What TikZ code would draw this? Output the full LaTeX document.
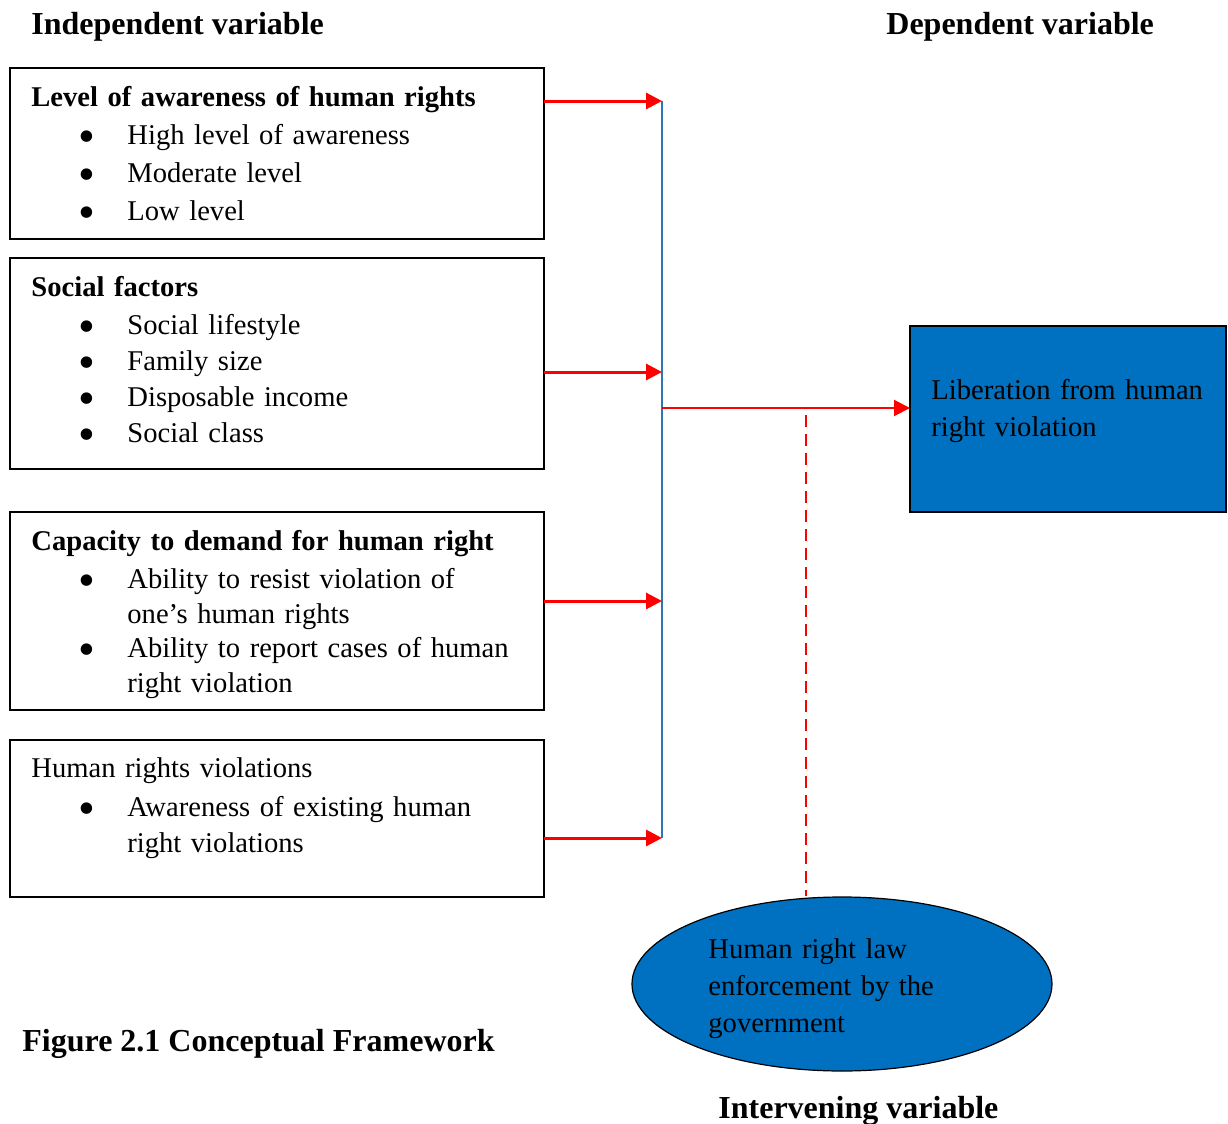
\documentclass[tikz,border=0pt]{standalone}
\usepackage{fontspec}
\setmainfont{Liberation Serif}
\usepackage{tikz}
\usetikzlibrary{arrows.meta,positioning,shapes.geometric}
\definecolor{boxblue}{RGB}{0,112,192}
\definecolor{barblue}{RGB}{46,117,182}
\definecolor{linkred}{RGB}{255,0,0}
\newcommand{\bigdot}{\smash{\fontsize{24}{24}\selectfont\raisebox{-3.9pt}{\textbullet}}}
\newcommand{\itm}[1]{\par\leftskip=48pt\noindent\llap{\bigdot\hspace{16pt}}#1\par}
\newcommand{\firstline}{\rule{0pt}{10.5pt}}

\begin{document}
\begin{tikzpicture}[x=0.5pt, y=-0.5pt,
    framebox/.style={draw=black, line width=0.75pt, anchor=north west, minimum width=267pt, inner sep=0pt, outer sep=0pt},
    boxtext/.style={anchor=north west, inner sep=0pt, text width=260pt, align=left},
    title/.style={anchor=base west, inner sep=0pt, font=\fontsize{16}{19}\selectfont\bfseries},
    feedarrow/.style={linkred, line width=1.5pt, -{Triangle[length=8pt,width=8pt]}},
    mainarrow/.style={linkred, line width=1pt, -{Triangle[length=8pt,width=8pt]}},
    every node/.style={font=\fontsize{14.3}{19}\selectfont}]
  \useasboundingbox (0,0) rectangle (1228,1124);

  % column titles
  \node[title] (indep) at (31,34) {Independent variable};
  \node[title] (dep) at (886,34) {Dependent variable};

  % independent variable boxes
  \node[framebox, minimum height=85.5pt] (aware) at (10,68) {};
  \node[boxtext] (aware-txt) at (31,85) {\firstline\textbf{Level of awareness of human rights}
    \itm{High level of awareness}
    \itm{Moderate level}
    \itm{Low level}};

  \node[framebox, minimum height=105.5pt] (social) at (10,258) {};
  \node[boxtext, font=\fontsize{14.3}{18}\selectfont] (social-txt) at (31,275) {\firstline\textbf{Social factors}\par\vspace{1pt}
    \itm{Social lifestyle}
    \itm{Family size}
    \itm{Disposable income}
    \itm{Social class}};

  \node[framebox, minimum height=99pt] (demand) at (10,512) {};
  \node[boxtext, font=\fontsize{14.3}{17.3}\selectfont] (demand-txt) at (31,529) {\firstline\textbf{Capacity to demand for human right}\par\vspace{1.7pt}
    \itm{Ability to resist violation of\\ one's human rights}
    \itm{Ability to report cases of human\\ right violation}};

  \node[framebox, minimum height=78.5pt] (viol) at (10,740) {};
  \node[boxtext, font=\fontsize{14.3}{18}\selectfont] (viol-txt) at (31,756) {\firstline Human rights violations\par\vspace{1.5pt}
    \itm{Awareness of existing human\\ right violations}};

  % dependent variable
  \node[framebox, fill=boxblue, minimum width=158pt, minimum height=93pt] (dv) at (910,326) {};
  \node[boxtext, text width=150pt, font=\fontsize{14.3}{18.5}\selectfont] (dv-txt) at (931,378) {\firstline Liberation from human\\ right violation};

  % intervening variable
  \node[ellipse, draw=black, line width=0.6pt, fill=boxblue, minimum width=210pt, minimum height=87pt,
    inner sep=0pt] (hrle) at (842,984) {};
  \node[boxtext, text width=134pt, font=\fontsize{14.3}{18.5}\selectfont] (hrle-txt) at (708,937)
    {\firstline Human right law\\ enforcement by the\\ government};
  \node[title] (interv) at (718,1118) {Intervening variable};

  % caption
  \node[title] (cap) at (22,1051) {Figure 2.1 Conceptual Framework};

  % joins on the collecting bar
  \coordinate (j1) at (662,101);
  \coordinate (j2) at (662,372);
  \coordinate (j3) at (662,601);
  \coordinate (j4) at (662,838);
  \coordinate (jm) at (662,408);
  \coordinate (jd) at (806,415);

  \draw[barblue, line width=0.75pt] (j1) -- (j4);
  \draw[feedarrow] (aware.east |- j1) -- (j1);
  \draw[feedarrow] (social.east |- j2) -- (j2);
  \draw[feedarrow] (demand.east |- j3) -- (j3);
  \draw[feedarrow] (viol.east |- j4) -- (j4);
  \draw[mainarrow] (jm) -- (dv.west |- jm);
  \draw[linkred, line width=1pt, dash pattern=on 6pt off 3.5pt] (jd) -- (jd |- hrle.north);
\end{tikzpicture}
\end{document}
